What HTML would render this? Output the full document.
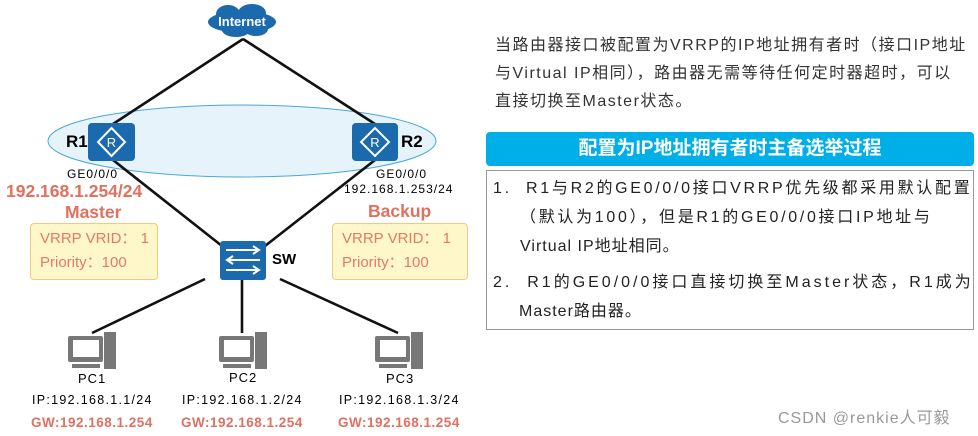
<!DOCTYPE html>
<html><head><meta charset="utf-8"><style>
body{margin:0;width:978px;height:436px;background:#fff;position:relative;overflow:hidden;font-family:"Liberation Sans","Noto Sans CJK SC",sans-serif}
.a{position:absolute;white-space:nowrap}
.red{color:#e0705f;font-weight:bold}
.box{position:absolute;background:#fdf7c9;border:1px solid #f3c97e;border-radius:4px;color:#e57a66;font-size:15px;line-height:24px;padding:3px 0 0 9px;box-sizing:border-box}
.t{font-size:16px;color:#222;line-height:28px}
</style></head><body>
<svg width="978" height="436" style="position:absolute;left:0;top:0">
<ellipse cx="242" cy="141" rx="194" ry="36" fill="#e6f3fa" stroke="#4aa8d8" stroke-width="1"/>
<g stroke="#111" stroke-width="2.6">
<line x1="243" y1="39" x2="113" y2="124"/><line x1="243" y1="39" x2="375" y2="124"/>
<line x1="113" y1="160" x2="222" y2="246"/><line x1="375" y1="160" x2="265" y2="246"/>
<line x1="205" y1="279" x2="92" y2="333"/><line x1="242" y1="279" x2="242" y2="333"/><line x1="280" y1="279" x2="398" y2="333"/>
</g>
<g fill="#1a6aad">
<ellipse cx="242" cy="22" rx="34" ry="11"/><ellipse cx="228" cy="14" rx="12" ry="9"/><ellipse cx="252" cy="13" rx="14" ry="9"/><ellipse cx="236" cy="30" rx="14" ry="7"/><ellipse cx="256" cy="29" rx="12" ry="7"/>
</g>
<text x="242" y="26" fill="#fff" font-size="13" font-weight="bold" text-anchor="middle" font-family="Liberation Sans">Internet</text>
<g>
<rect x="88" y="123" width="47" height="38" rx="4" fill="#1a6aad"/>
<path d="M111.5 128 L125 142 L111.5 156 L98 142Z" fill="none" stroke="#fff" stroke-width="2"/>
<text x="111.5" y="147" fill="#fff" font-size="13" text-anchor="middle" font-family="Liberation Sans">R</text>
<rect x="352" y="123" width="46" height="38" rx="4" fill="#1a6aad"/>
<path d="M375 128 L389 142 L375 156 L361 142Z" fill="none" stroke="#fff" stroke-width="2"/>
<text x="375" y="147" fill="#fff" font-size="13" text-anchor="middle" font-family="Liberation Sans">R</text>
<rect x="220" y="241" width="46" height="39" rx="3" fill="#1a6aad"/>
<g stroke="#fff" stroke-width="2" fill="none">
<path d="M226 250 H259 M253 246 L259 250 L253 254"/><path d="M260 260 H227 M233 256 L227 260 L233 264"/><path d="M226 270 H259 M253 266 L259 270 L253 274"/></g>
</g>
<g fill="#777">
<g id="pc"><rect x="68" y="336" width="35" height="26" rx="2"/><rect x="73" y="340" width="26" height="17" fill="#fff"/><rect x="72" y="364" width="28" height="4"/><rect x="104" y="332" width="12" height="37"/></g>
<use href="#pc" x="151"/><use href="#pc" x="307"/>
</g>
</svg>
<div class="a" style="left:66px;top:132px;font-size:17px;font-weight:bold">R1</div>
<div class="a" style="left:401px;top:132px;font-size:17px;font-weight:bold">R2</div>
<div class="a" style="left:67px;top:167px;font-size:12px;letter-spacing:1px">GE0/0/0</div>
<div class="a red" style="left:6px;top:181px;font-size:17.5px">192.168.1.254/24</div>
<div class="a red" style="left:65px;top:202px;font-size:17.5px">Master</div>
<div class="a" style="left:376px;top:167px;font-size:12px;letter-spacing:1px">GE0/0/0</div>
<div class="a" style="left:344px;top:182px;font-size:12px;letter-spacing:1px">192.168.1.253/24</div>
<div class="a red" style="left:368px;top:201px;font-size:17.5px">Backup</div>
<div class="box" style="left:30px;top:223px;width:128px;height:57px">VRRP VRID：&nbsp;1<br>Priority：100</div>
<div class="box" style="left:332px;top:223px;width:136px;height:57px">VRRP VRID：&nbsp;1<br>Priority：100</div>
<div class="a" style="left:272px;top:251px;font-size:15px;font-weight:bold">SW</div>
<div class="a" style="left:78px;top:371px;font-size:13px;letter-spacing:1px">PC1</div>
<div class="a" style="left:229px;top:370px;font-size:13px;letter-spacing:1px">PC2</div>
<div class="a" style="left:386px;top:371px;font-size:13px;letter-spacing:1px">PC3</div>
<div class="a" style="left:32px;top:393px;font-size:12.5px;letter-spacing:1.3px">IP:192.168.1.1/24</div>
<div class="a" style="left:182px;top:393px;font-size:12.5px;letter-spacing:1.3px">IP:192.168.1.2/24</div>
<div class="a" style="left:339px;top:393px;font-size:12.5px;letter-spacing:1.3px">IP:192.168.1.3/24</div>
<div class="a red" style="left:31px;top:415px;font-size:13.5px;letter-spacing:.5px">GW:192.168.1.254</div>
<div class="a red" style="left:181px;top:415px;font-size:13.5px;letter-spacing:.5px">GW:192.168.1.254</div>
<div class="a red" style="left:338px;top:415px;font-size:13.5px;letter-spacing:.5px">GW:192.168.1.254</div>
<div class="a t" style="left:495px;top:32px;color:#333;letter-spacing:1.5px">当路由器接口被配置为VRRP的IP地址拥有者时（接口IP地址<br>与Virtual IP相同），路由器无需等待任何定时器超时，可以<br>直接切换至Master状态。</div>
<div class="a" style="left:486px;top:132px;width:488px;height:34px;background:#00aee8;border-radius:4px;color:#fff;font-size:19px;font-weight:bold;text-align:center;line-height:34px">配置为IP地址拥有者时主备选举过程</div>
<div class="a" style="left:486px;top:170px;width:488px;height:160px;border:1px solid #999;box-sizing:border-box"></div>
<div class="a t" style="left:493px;top:174px;line-height:29px;letter-spacing:2.7px">1.&nbsp;&nbsp;R1与R2的GE0/0/0接口VRRP优先级都采用默认配置<br><span style="padding-left:27px">（默认为100），但是R1的GE0/0/0接口IP地址与</span><br><span style="padding-left:27px;letter-spacing:1px">Virtual IP地址相同。</span></div>
<div class="a t" style="left:493px;top:268px;line-height:29px;letter-spacing:3px">2.&nbsp;&nbsp;R1的GE0/0/0接口直接切换至Master状态，R1成为<br><span style="padding-left:26px;letter-spacing:1px">Master路由器。</span></div>
<div class="a" style="left:778px;top:404px;font-size:16px;color:#999;letter-spacing:1px">CSDN @renkie人可毅</div>
</body></html>
